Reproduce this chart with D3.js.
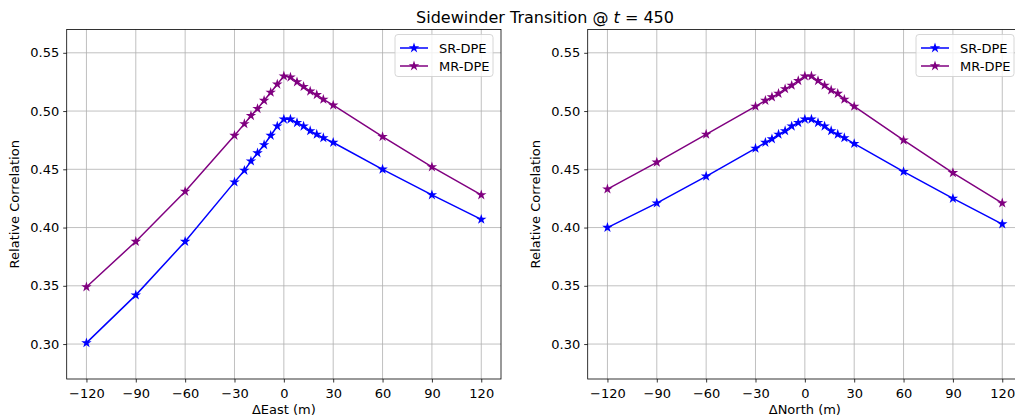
<!DOCTYPE html>
<html>
<head>
<meta charset="utf-8">
<script src="https://cdn.jsdelivr.net/npm/d3@7"></script>
<style>
  body { margin: 0; background: #fff; }
  svg { font-family: "DejaVu Sans", sans-serif; }
</style>
</head>
<body>
<div id="chart"></div>
<script>
var offsets = [-120,-90,-60,-30,-24,-20,-16,-12,-8,-4,0,4,8,12,16,20,24,30,60,90,120];

var eastSR = [0.301,0.342,0.388,0.439,0.449,0.457,0.464,0.471,0.479,0.487,0.493,0.493,0.490,0.487,0.483,0.480,0.477,0.473,0.450,0.428,0.407];
var eastMR = [0.349,0.388,0.431,0.479,0.489,0.496,0.502,0.509,0.516,0.523,0.530,0.529,0.525,0.521,0.517,0.514,0.510,0.505,0.478,0.452,0.428];

var northSR = [0.400,0.421,0.444,0.468,0.473,0.476,0.480,0.483,0.487,0.490,0.493,0.493,0.490,0.487,0.483,0.480,0.477,0.472,0.448,0.425,0.403];
var northMR = [0.433,0.456,0.480,0.504,0.509,0.512,0.515,0.519,0.522,0.526,0.530,0.530,0.526,0.522,0.518,0.515,0.510,0.504,0.475,0.447,0.421];

var xTicks = [-120,-90,-60,-30,0,30,60,90,120];
var yTicks = [0.30,0.35,0.40,0.45,0.50,0.55];
var seriesNames = ["SR-DPE","MR-DPE"];
var seriesColors = ["#0000ff","#800080"];

var svg = d3.select("#chart").append("svg")
    .attr("width", 1015)
    .attr("height", 420);

/* title */
var title = svg.append("text")
    .attr("x", 545)
    .attr("y", 23)
    .attr("text-anchor", "middle")
    .attr("font-size", 16)
    .attr("fill", "#000");
title.append("tspan").text("Sidewinder Transition @ ");
title.append("tspan").attr("font-style", "italic").text("t");
title.append("tspan").text(" = 450");

var panelH = 349.5;
var panelW = 434.3;

function drawPanel(left, xLabel, sr, mr) {
    var g = svg.append("g").attr("transform", "translate(" + left + ",29.5)");

    var x = d3.scaleLinear().domain([-132, 132]).range([0, panelW]);
    var y = d3.scaleLinear().domain([0.27, 0.57]).range([panelH, 0]);

    /* grid */
    g.append("g").selectAll("line").data(xTicks).join("line")
        .attr("x1", d => x(d)).attr("x2", d => x(d))
        .attr("y1", 0).attr("y2", panelH)
        .attr("stroke", "#b0b0b0").attr("stroke-width", 0.8);
    g.append("g").selectAll("line").data(yTicks).join("line")
        .attr("y1", d => y(d)).attr("y2", d => y(d))
        .attr("x1", 0).attr("x2", panelW)
        .attr("stroke", "#b0b0b0").attr("stroke-width", 0.8);

    /* axes */
    var xAxis = g.append("g")
        .attr("transform", "translate(0," + panelH + ")")
        .call(d3.axisBottom(x).tickValues(xTicks).tickSize(3.5).tickPadding(4)
            .tickFormat(d => d < 0 ? "\u2212" + Math.abs(d) : d));
    var yAxis = g.append("g")
        .call(d3.axisLeft(y).tickValues(yTicks).tickSize(3.5).tickPadding(4)
            .tickFormat(d3.format(".2f")));
    [xAxis, yAxis].forEach(function(a) {
        a.select(".domain").remove();
        a.selectAll("text").attr("font-size", 13).attr("fill", "#000")
            .attr("font-family", "DejaVu Sans, sans-serif");
        a.selectAll("line").attr("stroke", "#000").attr("stroke-width", 0.8);
    });
    xAxis.selectAll("text").attr("dy", "0.85em");

    /* lines and markers */
    var data = [sr, mr];
    var line = d3.line().x((d, i) => x(offsets[i])).y(d => y(d));
    data.forEach(function(vals, k) {
        g.append("path")
            .attr("d", line(vals))
            .attr("fill", "none")
            .attr("stroke", seriesColors[k])
            .attr("stroke-width", 1.5);
        g.append("g").selectAll("path").data(vals).join("path")
            .attr("transform", (d, i) => "translate(" + x(offsets[i]) + "," + y(d) + ")")
            .attr("d", d3.symbol().type(d3.symbolStar).size(34))
            .attr("fill", seriesColors[k]);
    });

    /* frame */
    g.append("rect")
        .attr("width", panelW).attr("height", panelH)
        .attr("fill", "none").attr("stroke", "#000").attr("stroke-width", 0.8);

    /* axis labels */
    g.append("text")
        .attr("x", panelW / 2).attr("y", panelH + 35)
        .attr("text-anchor", "middle").attr("font-size", 13)
        .text(xLabel);
    g.append("text")
        .attr("transform", "translate(" + (-48) + "," + (panelH / 2) + ") rotate(-90)")
        .attr("text-anchor", "middle").attr("font-size", 13)
        .text("Relative Correlation");

    /* legend */
    var lg = g.append("g").attr("transform", "translate(" + (panelW - 106) + ",5)");
    lg.append("rect")
        .attr("width", 98).attr("height", 42).attr("rx", 3)
        .attr("fill", "#fff").attr("fill-opacity", 0.8)
        .attr("stroke", "#cccccc").attr("stroke-width", 0.8);
    seriesNames.forEach(function(name, k) {
        var row = lg.append("g").attr("transform", "translate(0," + (13.5 + k * 18) + ")");
        row.append("line").attr("x1", 5).attr("x2", 33)
            .attr("stroke", seriesColors[k]).attr("stroke-width", 1.5);
        row.append("path").attr("transform", "translate(19,0)")
            .attr("d", d3.symbol().type(d3.symbolStar).size(34))
            .attr("fill", seriesColors[k]);
        row.append("text").attr("x", 44).attr("dy", "0.35em")
            .attr("font-size", 13).text(name);
    });
}

drawPanel(66.7, "\u0394East (m)", eastSR, eastMR);
drawPanel(587.7, "\u0394North (m)", northSR, northMR);
</script>
</body>
</html>
